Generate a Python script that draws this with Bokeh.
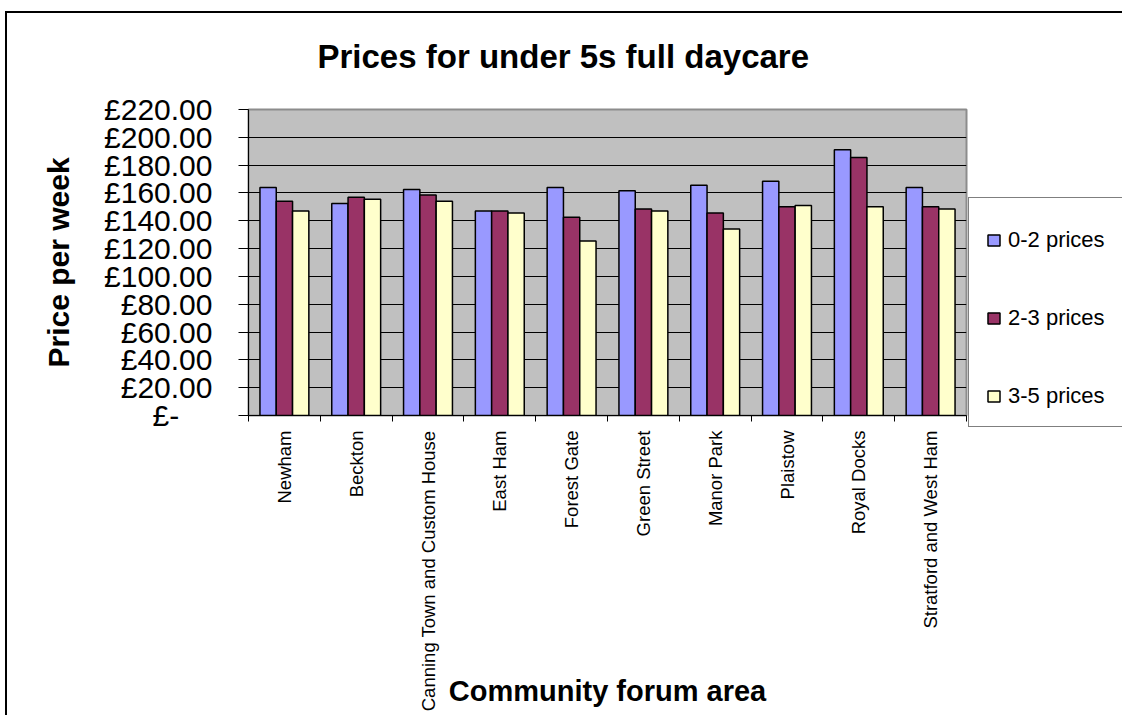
import math
from bokeh.plotting import figure
from bokeh.models import Range1d, FixedTicker, Legend
from bokeh.embed import file_html
from bokeh.resources import INLINE

# ---- data ----
areas = ["Newham", "Beckton", "Canning Town and Custom House", "East Ham",
         "Forest Gate", "Green Street", "Manor Park", "Plaistow",
         "Royal Docks", "Stratford and West Ham"]
prices_0_2 = [164, 152.5, 162.5, 147, 164, 161.5, 165.5, 168.5, 191, 164]
prices_2_3 = [154, 157, 158.5, 147, 142.5, 148.5, 145.5, 150, 185.5, 150]
prices_3_5 = [147, 155.5, 154, 145.5, 125.5, 147, 134, 151, 150, 148.5]
series_names = ["0-2 prices", "2-3 prices", "3-5 prices"]
y_ticks = list(range(0, 221, 20))
y_tick_labels = ["£-\u00a0\u00a0\u00a0\u00a0"] + ["£%d.00" % v for v in y_ticks[1:]]

FONT = "Liberation Sans"
colors = ["#9999FF", "#993366", "#FFFFCC"]

p = figure(width=1122, height=715, frame_width=718, frame_height=306,
           min_border_left=248, min_border_right=156, min_border_top=109,
           min_border_bottom=300, x_range=Range1d(0, len(areas)),
           y_range=Range1d(0, 220), output_backend="svg", toolbar_location=None,
           title="Prices for under 5s full daycare")
# outer chart border (left and top edges) drawn behind a transparent canvas
p.styles = {"background": "linear-gradient(#000, #000) 5px 11px / 2px 704px no-repeat, "
                          "linear-gradient(#000, #000) 5px 11px / 1117px 2px no-repeat, #fff"}

p.background_fill_color = "#C0C0C0"
p.border_fill_color = None
p.outline_line_color = "#8C8C8C"
p.outline_line_width = 2

centers = [i + 0.5 for i in range(len(areas))]
bw = 0.227
offsets = [-bw, 0, bw]
renderers = []
for vals, col, off in zip([prices_0_2, prices_2_3, prices_3_5], colors, offsets):
    r = p.vbar(x=[c + off for c in centers], top=vals, width=bw, bottom=0,
               fill_color=col, line_color="black", line_width=1.5)
    renderers.append(r)

# title
p.title.text_font = FONT
p.title.text_font_size = "33px"
p.title.text_font_style = "bold"
p.title.text_color = "black"
p.title.text_line_height = 1.0
p.title.align = "left"
p.title.offset = 69
p.title.standoff = 70

# y axis
yax = p.yaxis[0]
yax.ticker = FixedTicker(ticks=y_ticks)
yax.major_label_overrides = {v: s for v, s in zip(y_ticks, y_tick_labels)}
yax.major_label_text_font = FONT
yax.major_label_text_font_size = "30px"
yax.major_label_text_color = "black"
yax.major_tick_out = 10
yax.major_tick_in = 0
yax.major_tick_line_color = "black"
yax.minor_tick_line_color = None
yax.major_label_standoff = 26
yax.axis_line_color = "black"
yax.axis_label = "Price per week"
yax.axis_label_text_font = FONT
yax.axis_label_text_font_size = "30px"
yax.axis_label_text_font_style = "bold"
yax.axis_label_text_color = "black"
yax.axis_label_standoff = 26

# x axis
xax = p.xaxis[0]
xax.ticker = FixedTicker(ticks=centers, minor_ticks=list(range(len(areas) + 1)))
xax.major_label_overrides = {c: a for c, a in zip(centers, areas)}
xax.major_label_orientation = math.pi / 2
xax.major_label_text_font = FONT
xax.major_label_text_font_size = "18.5px"
xax.major_label_text_color = "black"
xax.major_tick_line_color = None
xax.major_tick_out = 0
xax.major_tick_in = 0
xax.minor_tick_line_color = "black"
xax.minor_tick_out = 6
xax.minor_tick_in = 0
xax.major_label_standoff = 9
xax.axis_line_color = "black"
xax.axis_label = "Community forum area"
xax.axis_label_text_font = FONT
xax.axis_label_text_font_size = "29px"
xax.axis_label_text_font_style = "bold"
xax.axis_label_text_color = "black"
xax.axis_label_standoff = -39

p.xgrid.grid_line_color = None
p.ygrid.grid_line_color = "black"
p.ygrid.grid_line_width = 1

# legend
legend = Legend(items=[(n, [r]) for n, r in zip(series_names, renderers)],
                location=(2, -12), orientation="vertical")
legend.title = " "
legend.title_text_font_size = "10px"
legend.title_standoff = 1
legend.label_text_font = FONT
legend.label_text_font_size = "22px"
legend.label_text_color = "black"
legend.label_text_baseline = "alphabetic"
legend.glyph_width = 15
legend.glyph_height = 14
legend.label_height = 14
legend.label_standoff = 7
legend.spacing = 52
legend.padding = 17
legend.margin = 0
legend.border_line_color = "black"
legend.border_line_width = 1
legend.background_fill_color = "white"
legend.background_fill_alpha = 1
p.add_layout(legend, "right")

open("out.html", "w").write(file_html(p, INLINE))
